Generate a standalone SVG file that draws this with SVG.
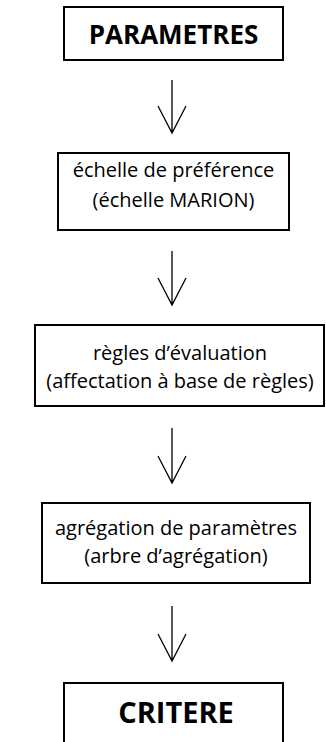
<svg xmlns="http://www.w3.org/2000/svg" width="326" height="742" viewBox="0 0 326 742">
<style>
.box{fill:#fff;stroke:#000;stroke-width:2}
.t{font-family:"Open Sans","Noto Sans",sans-serif;font-size:20px;fill:#000;text-anchor:middle}
.b{font-family:"Open Sans","Noto Sans",sans-serif;font-weight:bold;fill:#000;text-anchor:middle}
.c{fill:none;stroke:#000;stroke-width:1.3}
</style>
<rect width="326" height="742" fill="#fff"/>
<g id="n1"><rect class="box" x="64" y="7" width="219" height="53"/><text class="b" x="173.5" y="44" font-size="26">PARAMETRES</text></g>
<g id="n2"><rect class="box" x="58" y="153" width="231" height="77"/><text class="t" x="173.5" y="177">échelle de préférence</text><text class="t" x="173.5" y="207">(échelle MARION)</text></g>
<g id="n3"><rect class="box" x="35" y="325" width="289" height="81"/><text class="t" x="180" y="360">règles d’évaluation</text><text class="t" x="180" y="388">(affectation à base de règles)</text></g>
<g id="n4"><rect class="box" x="42" y="503" width="268" height="80"/><text class="t" x="176" y="535">agrégation de paramètres</text><text class="t" x="176" y="563">(arbre d’agrégation)</text></g>
<g id="n5"><path class="box" d="M64,742 V683 H283 V742"/><text class="b" x="176" y="723" font-size="29">CRITERE</text></g>
<g id="connectors">
<path class="c" d="M172,80 V133 M158,106 L172,133 L186,106"/>
<path class="c" d="M172,251 V305 M158,278 L172,305 L186,278"/>
<path class="c" d="M172,428 V483 M158,456 L172,483 L186,456"/>
<path class="c" d="M172,606 V661 M158,634 L172,661 L186,634"/>
</g>
</svg>
